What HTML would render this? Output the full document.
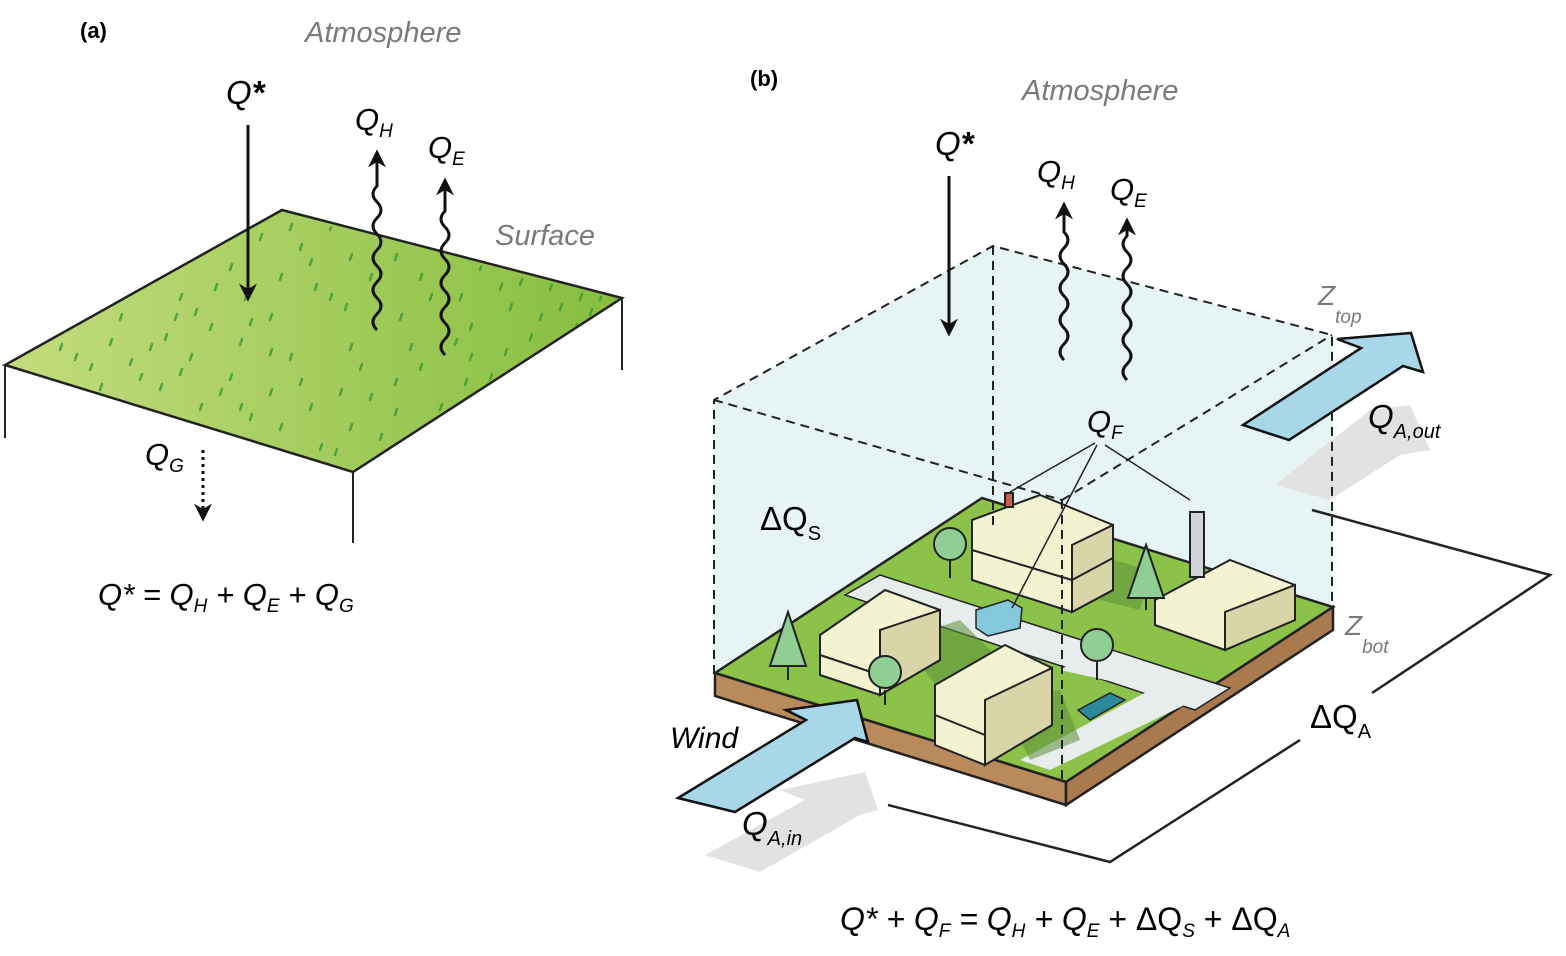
<!DOCTYPE html>
<html><head><meta charset="utf-8"><style>
html,body{margin:0;padding:0;background:#fff;}
svg{display:block;}
text{font-family:"Liberation Sans",sans-serif;}
.it{font-style:italic;}
.gray{fill:#7a7a7a;}
</style></head><body>
<svg width="1566" height="956" viewBox="0 0 1566 956" xmlns="http://www.w3.org/2000/svg">
<defs>
<linearGradient id="grass" x1="0" y1="0" x2="1" y2="0"><stop offset="0" stop-color="#c3dc7e"/><stop offset="1" stop-color="#86be3e"/></linearGradient>
<marker id="ah" viewBox="0 0 10 10" refX="8" refY="5" markerWidth="7" markerHeight="6" orient="auto"><path d="M0,0 L10,5 L0,10 L3,5 z" fill="#111"/></marker>
<clipPath id="gclip"><polygon points="282,214 617,300 353,467 12,365"/></clipPath>
</defs>

<g>
<text x="80" y="38" font-size="22" font-weight="bold">(a)</text>
<text x="305" y="42" font-size="29" class="it gray">Atmosphere</text>
<polygon points="282,210 622,298 353,472 5,365" fill="url(#grass)" stroke="#222" stroke-width="2.5"/>
<g stroke="#3f9a3a" stroke-width="2.5" opacity="0.85" stroke-linecap="round" clip-path="url(#gclip)">
<path d="M60,350 l2,-6 M120,320 l2,-6 M180,300 l2,-6 M230,270 l2,-6 M300,250 l2,-6 M350,260 l2,-6 M420,280 l2,-6 M500,290 l2,-6 M560,310 l2,-6 M600,300 l2,-6 M90,370 l2,-6 M150,350 l2,-6 M210,330 l2,-6 M270,320 l2,-6 M330,300 l2,-6 M400,320 l2,-6 M470,330 l2,-6 M530,340 l2,-6 M160,390 l2,-6 M230,380 l2,-6 M290,360 l2,-6 M350,350 l2,-6 M420,370 l2,-6 M490,380 l2,-6 M250,420 l2,-6 M310,410 l2,-6 M370,400 l2,-6 M440,410 l2,-6 M320,450 l2,-6 M380,440 l2,-6 M200,410 l2,-6 M140,380 l2,-6 M260,240 l2,-6 M330,230 l2,-6 M450,250 l2,-6 M520,285 l2,-6 M580,300 l2,-6 M110,345 l2,-6 M190,360 l2,-6 M270,395 l2,-6 M350,430 l2,-6 M410,350 l2,-6 M460,300 l2,-6 M540,320 l2,-6
M75,360 l2,-6 M100,390 l2,-6 M130,365 l2,-6 M165,340 l2,-6 M195,315 l2,-6 M215,290 l2,-6 M245,300 l2,-6 M280,280 l2,-6 M310,265 l2,-6 M290,230 l2,-6 M315,290 l2,-6 M345,310 l2,-6 M370,280 l2,-6 M395,260 l2,-6 M430,300 l2,-6 M455,345 l2,-6 M480,270 l2,-6 M510,310 l2,-6 M550,290 l2,-6 M575,330 l2,-6 M505,355 l2,-6 M465,385 l2,-6 M430,430 l2,-6 M395,415 l2,-6 M340,395 l2,-6 M300,385 l2,-6 M270,355 l2,-6 M240,345 l2,-6 M220,395 l2,-6 M180,375 l2,-6 M280,430 l2,-6 M335,455 l2,-6 M360,370 l2,-6 M395,385 l2,-6 M240,410 l2,-6 M175,320 l2,-6 M250,325 l2,-6 M470,360 l2,-6 M545,355 l2,-6 M590,315 l2,-6"/>
</g>
<g stroke="#222" stroke-width="2">
<line x1="5" y1="365" x2="5" y2="438"/><line x1="353" y1="472" x2="353" y2="543"/><line x1="622" y1="298" x2="622" y2="370"/>
</g>
<text x="226" y="104" font-size="33" class="it">Q<tspan font-weight="bold">*</tspan></text>
<line x1="248" y1="125" x2="248" y2="298" stroke="#111" stroke-width="3" marker-end="url(#ah)"/>
<text x="355" y="130" font-size="31" class="it">Q<tspan font-size="19" dy="7">H</tspan></text>
<path d="M377,330 q-8,-8 0,-16 q8,-8 0,-16 q-8,-8 0,-16 q8,-8 0,-16 q-8,-8 0,-16 q8,-8 0,-16 q-8,-8 0,-16 q8,-8 0,-16 q-8,-8 0,-16 l0,-33" fill="none" stroke="#111" stroke-width="3" marker-end="url(#ah)"/>
<text x="428" y="158" font-size="31" class="it">Q<tspan font-size="19" dy="7">E</tspan></text>
<path d="M445,355 q-8,-8 0,-16 q8,-8 0,-16 q-8,-8 0,-16 q8,-8 0,-16 q-8,-8 0,-16 q8,-8 0,-16 q-8,-8 0,-16 q8,-8 0,-16 q-8,-8 0,-16 l0,-30" fill="none" stroke="#111" stroke-width="3" marker-end="url(#ah)"/>
<text x="495" y="245" font-size="29" class="it gray">Surface</text>
<text x="145" y="465" font-size="31" class="it">Q<tspan font-size="19" dy="7">G</tspan></text>
<line x1="203" y1="450" x2="203" y2="518" stroke="#111" stroke-width="3" stroke-dasharray="3,4" marker-end="url(#ah)"/>
<text x="98" y="605" font-size="31" class="it">Q* = Q<tspan font-size="19" dy="7">H</tspan><tspan dy="-7"> + Q</tspan><tspan font-size="19" dy="7">E</tspan><tspan dy="-7"> + Q</tspan><tspan font-size="19" dy="7">G</tspan></text>
</g>

<g>
<text x="750" y="86" font-size="22" font-weight="bold">(b)</text>
<text x="1022" y="100" font-size="29" class="it gray">Atmosphere</text>
<polygon points="714,400 993,246 1332,335 1332,605 1066,782 714,674" fill="#e6f4f5"/>
<polygon points="1275,485 1330,500 1400,455 1430,450 1410,405 1370,410" fill="#e2e2e2"/>
<polygon points="705,855 760,872 860,815 878,810 865,772 780,790 805,800" fill="#e2e2e2"/>
<polygon points="715,673 982,498 1333,607 1066,782" fill="#8cc24a" stroke="#222" stroke-width="2.5"/>
<polygon points="715,673 1066,782 1066,805 715,696" fill="#b98a5c" stroke="#222" stroke-width="2.5"/>
<polygon points="1066,782 1333,607 1333,630 1066,805" fill="#a87a4d" stroke="#222" stroke-width="2.5"/>
<polygon points="845,595 880,575 1230,688 1195,710" fill="#e7ecec" stroke="#222" stroke-width="1.5"/>
<polygon points="1060,670 1100,648 1195,700 1050,770 1020,760 1150,690" fill="#e7ecec"/>
<g fill="#5c8f3a" opacity="0.55">
<polygon points="900,640 960,620 1000,660 940,690"/>
<polygon points="1113,560 1150,570 1140,610 1100,600"/>
<polygon points="1000,700 1060,690 1080,740 1030,760"/>
</g>
<g stroke="#222" stroke-width="2">
<polygon points="972,520 1040,495 1113,525 1113,590 1072,612 972,580" fill="#f3f3d2"/>
<polygon points="1072,545 1113,525 1113,590 1072,612" fill="#d8d6a8"/>
<line x1="972" y1="550" x2="1072" y2="580"/><line x1="1072" y1="580" x2="1113" y2="558"/>
<polygon points="820,635 885,590 940,610 940,660 880,695 820,675" fill="#f3f3d2"/>
<polygon points="880,630 940,610 940,660 880,695" fill="#d8d6a8"/>
<line x1="820" y1="655" x2="880" y2="675"/>
<polygon points="935,685 1005,645 1052,668 1052,725 985,765 935,745" fill="#f3f3d2"/>
<polygon points="985,700 1052,668 1052,725 985,765" fill="#d8d6a8"/>
<line x1="935" y1="715" x2="985" y2="735"/>
<polygon points="1155,600 1230,560 1295,585 1295,620 1225,650 1155,625" fill="#f3f3d2"/>
<polygon points="1225,612 1295,585 1295,620 1225,650" fill="#d8d6a8"/>
<rect x="1190" y="512" width="14" height="65" fill="#cfd4d6"/>
<rect x="1005" y="493" width="8" height="14" fill="#c7604a"/>
</g>
<g stroke="#222" stroke-width="2" fill="#8fcf93">
<line x1="950" y1="560" x2="950" y2="578"/><circle cx="950" cy="544" r="16"/>
<line x1="885" y1="690" x2="885" y2="705"/><circle cx="885" cy="672" r="16"/>
<line x1="1097" y1="655" x2="1097" y2="680"/><circle cx="1097" cy="645" r="16"/>
<line x1="788" y1="665" x2="788" y2="680"/><polygon points="788,612 806,666 770,666"/>
<line x1="1146" y1="595" x2="1146" y2="610"/><polygon points="1146,545 1164,598 1128,598"/>
</g>
<g stroke="#222" stroke-width="1.5">
<polygon points="976,610 1008,600 1022,608 1020,628 988,636 976,628" fill="#84c8dc"/>
<polygon points="1078,710 1110,693 1125,700 1090,720" fill="#2a8a9a"/>
</g>
<g stroke="#222" stroke-width="2" stroke-dasharray="9,6" fill="none">
<polyline points="714,674 714,400 993,246 1332,335 1332,605"/>
<line x1="714" y1="400" x2="1062" y2="500"/><line x1="1062" y1="500" x2="1332" y2="335"/>
<line x1="993" y1="246" x2="993" y2="525"/><line x1="1062" y1="500" x2="1062" y2="782"/>
</g>
<g stroke="#222" stroke-width="1.5">
<line x1="1095" y1="443" x2="1010" y2="492"/><line x1="1097" y1="445" x2="1012" y2="608"/><line x1="1105" y1="445" x2="1190" y2="500"/>
</g>
<text x="1087" y="432" font-size="31" class="it">Q<tspan font-size="19" dy="7">F</tspan></text>
<text x="935" y="155" font-size="33" class="it">Q<tspan font-weight="bold">*</tspan></text>
<line x1="949" y1="176" x2="949" y2="333" stroke="#111" stroke-width="3" marker-end="url(#ah)"/>
<text x="1037" y="182" font-size="31" class="it">Q<tspan font-size="19" dy="7">H</tspan></text>
<path d="M1064,360 q-8,-8 0,-16 q8,-8 0,-16 q-8,-8 0,-16 q8,-8 0,-16 q-8,-8 0,-16 q8,-8 0,-16 q-8,-8 0,-16 q8,-8 0,-16 l0,-27" fill="none" stroke="#111" stroke-width="3" marker-end="url(#ah)"/>
<text x="1110" y="200" font-size="31" class="it">Q<tspan font-size="19" dy="7">E</tspan></text>
<path d="M1127,380 q-8,-8 0,-16 q8,-8 0,-16 q-8,-8 0,-16 q8,-8 0,-16 q-8,-8 0,-16 q8,-8 0,-16 q-8,-8 0,-16 q8,-8 0,-16 q-8,-8 0,-16 l0,-15" fill="none" stroke="#111" stroke-width="3" marker-end="url(#ah)"/>
<text x="1318" y="305" font-size="28" class="it gray">Z<tspan font-size="19" dy="18">top</tspan></text>
<text x="1345" y="635" font-size="28" class="it gray">Z<tspan font-size="19" dy="18">bot</tspan></text>
<polygon points="1243,425 1289,440 1403,366 1423,372 1411,333 1337,339 1361,348" fill="#a8d8e8" stroke="#111" stroke-width="2.5"/>
<text x="1368" y="428" font-size="33" class="it">Q<tspan font-size="20" dy="10">A,out</tspan></text>
<polygon points="678,798 735,812 855,738 868,742 857,700 786,710 806,720" fill="#a8d8e8" stroke="#111" stroke-width="2.5"/>
<text x="670" y="748" font-size="30" class="it">Wind</text>
<text x="742" y="835" font-size="33" class="it">Q<tspan font-size="20" dy="10">A,in</tspan></text>
<text x="760" y="530" font-size="33">ΔQ<tspan font-size="20" dy="10">S</tspan></text>
<text x="1310" y="728" font-size="33">ΔQ<tspan font-size="20" dy="10">A</tspan></text>
<g stroke="#222" stroke-width="2.5" fill="none">
<polyline points="1312,510 1550,575 1372,693"/><polyline points="1300,740 1110,862 888,805"/>
</g>
<text x="840" y="930" font-size="32" class="it">Q* + Q<tspan font-size="19" dy="7">F</tspan><tspan dy="-7"> = Q</tspan><tspan font-size="19" dy="7">H</tspan><tspan dy="-7"> + Q</tspan><tspan font-size="19" dy="7">E</tspan><tspan dy="-7" font-style="normal"> + ΔQ</tspan><tspan font-size="19" dy="7">S</tspan><tspan dy="-7" font-style="normal"> + ΔQ</tspan><tspan font-size="19" dy="7">A</tspan></text>
</g>
</svg>
</body></html>
